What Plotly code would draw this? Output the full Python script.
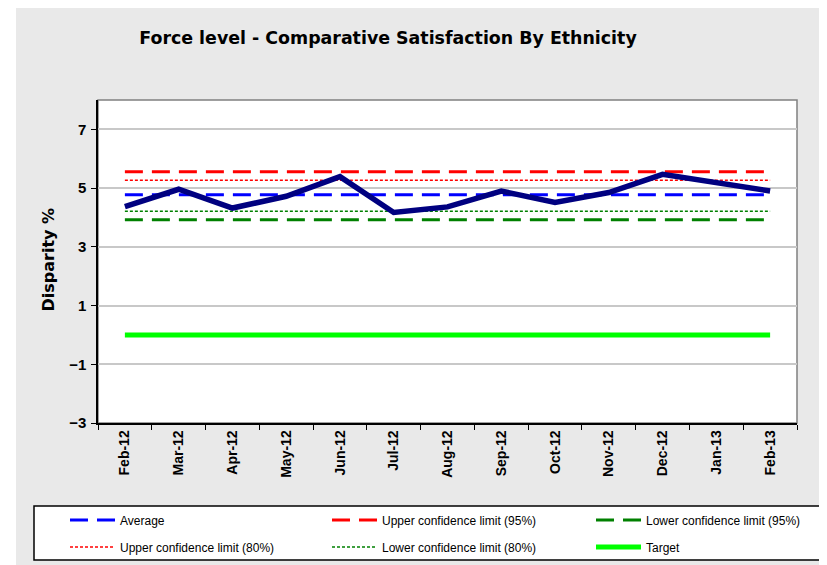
import plotly.graph_objects as go

months = ["Feb-12", "Mar-12", "Apr-12", "May-12", "Jun-12", "Jul-12", "Aug-12",
          "Sep-12", "Oct-12", "Nov-12", "Dec-12", "Jan-13", "Feb-13"]
disparity = [4.37, 4.96, 4.32, 4.72, 5.39, 4.17, 4.36, 4.90, 4.51, 4.85, 5.47, 5.19, 4.90]
average = [4.77, 4.77, 4.77, 4.77, 4.77, 4.77, 4.77, 4.77, 4.77, 4.77, 4.77, 4.77, 4.77]
upper95 = [5.56, 5.56, 5.56, 5.56, 5.56, 5.56, 5.56, 5.56, 5.56, 5.56, 5.56, 5.56, 5.56]
lower95 = [3.92, 3.92, 3.92, 3.92, 3.92, 3.92, 3.92, 3.92, 3.92, 3.92, 3.92, 3.92, 3.92]
upper80 = [5.27, 5.27, 5.27, 5.27, 5.27, 5.27, 5.27, 5.27, 5.27, 5.27, 5.27, 5.27, 5.27]
lower80 = [4.21, 4.21, 4.21, 4.21, 4.21, 4.21, 4.21, 4.21, 4.21, 4.21, 4.21, 4.21, 4.21]
target = [0, 0, 0, 0, 0, 0, 0, 0, 0, 0, 0, 0, 0]
y_ticks = [-3, -1, 1, 3, 5, 7]

FONT = "Liberation Sans, Arial, sans-serif"
TITLE_FONT = "DejaVu Sans, Liberation Sans, Arial, sans-serif"

# page body has an 8px margin, so the figure is slightly smaller than the window
OFF = 8
W, H = 827 - OFF, 565 - OFF
PL, PR, PT, PB = 98, 797, 100, 423  # plot area in window pixels


def px(sx):
    return (sx - PL) / (PR - PL)


def py(sy):
    return (PB - sy) / (PB - PT)


fig = go.Figure()
fig.add_trace(go.Scatter(x=months, y=average, mode="lines", name="Average",
                         line=dict(color="#0000FF", width=3, dash="18px,9px"), legend="legend"))
fig.add_trace(go.Scatter(x=months, y=upper95, mode="lines", name="Upper confidence limit (95%)",
                         line=dict(color="#FF0000", width=3, dash="18px,9px"), legend="legend2"))
fig.add_trace(go.Scatter(x=months, y=lower95, mode="lines", name="Lower confidence limit (95%)",
                         line=dict(color="#008000", width=3, dash="18px,9px"), legend="legend3"))
fig.add_trace(go.Scatter(x=months, y=upper80, mode="lines", name="Upper confidence limit (80%)",
                         line=dict(color="#FF0000", width=1.5, dash="3px,2px"), legend="legend4"))
fig.add_trace(go.Scatter(x=months, y=lower80, mode="lines", name="Lower confidence limit (80%)",
                         line=dict(color="#008000", width=1.5, dash="3px,2px"), legend="legend5"))
fig.add_trace(go.Scatter(x=months, y=target, mode="lines", name="Target",
                         line=dict(color="#00FF00", width=5), legend="legend6"))
fig.add_trace(go.Scatter(x=months, y=disparity, mode="lines", name="Disparity",
                         line=dict(color="#000080", width=5.5), showlegend=False))


def leg(sx, sy):
    return dict(x=(sx - OFF) / W, y=1 - (sy - OFF) / H, xref="container", yref="container",
                xanchor="left", yanchor="middle", itemwidth=45,
                bgcolor="rgba(0,0,0,0)", borderwidth=0,
                font=dict(family=FONT, size=12, color="#000000"))


fig.update_layout(
    width=W, height=H,
    margin=dict(l=PL - OFF, r=827 - PR, t=PT - OFF, b=565 - PB, autoexpand=False),
    paper_bgcolor="#E9E9E9",
    plot_bgcolor="#FFFFFF",
    title=dict(text="Force level - Comparative Satisfaction By Ethnicity",
               x=(388 - OFF) / W, xref="container", xanchor="center",
               y=1 - (38 - OFF) / H, yref="container", yanchor="middle",
               font=dict(family=TITLE_FONT, size=17.4, color="#000000", weight="bold")),
    legend=leg(65, 520),
    legend2=leg(327, 520),
    legend3=leg(591, 520),
    legend4=leg(65, 547),
    legend5=leg(327, 547),
    legend6=leg(591, 547),
    shapes=[
        dict(type="rect", xref="paper", yref="paper", x0=px(0), x1=px(16), y0=-1, y1=2,
             fillcolor="#FFFFFF", line=dict(width=0), layer="below"),
        dict(type="rect", xref="paper", yref="paper", x0=0, x1=1, y0=0, y1=1,
             line=dict(color="#808080", width=1.5), layer="below"),
        dict(type="rect", xref="paper", yref="paper", x0=px(34), x1=px(821), y0=py(560), y1=py(506),
             fillcolor="#FFFFFF", line=dict(color="#000000", width=1.5), layer="below"),
    ],
    annotations=[
        dict(text="Disparity %", xref="paper", yref="paper", x=px(48.5), y=py(260),
             xanchor="center", yanchor="middle", textangle=-90, showarrow=False,
             font=dict(family=TITLE_FONT, size=16, color="#000000", weight="bold")),
    ],
)

fig.update_xaxes(type="category", range=[-0.5, 12.5], tickangle=-90,
                 ticks="outside", ticklen=5, tickcolor="#000000", tickson="boundaries",
                 showline=True, linecolor="#000000", linewidth=1.5, showgrid=False,
                 tickfont=dict(family=FONT, size=14, color="#000000", weight="bold"))
fig.update_yaxes(range=[-3, 8], tickvals=y_ticks, ticks="outside", ticklen=5, tickcolor="#000000",
                 showline=True, linecolor="#000000", linewidth=1.5,
                 showgrid=True, gridcolor="#C8C8C8", gridwidth=1.5, zeroline=False,
                 ticklabelstandoff=2,
                 tickfont=dict(family=FONT, size=15, color="#000000", weight="bold"))

fig.write_html("out.html")
